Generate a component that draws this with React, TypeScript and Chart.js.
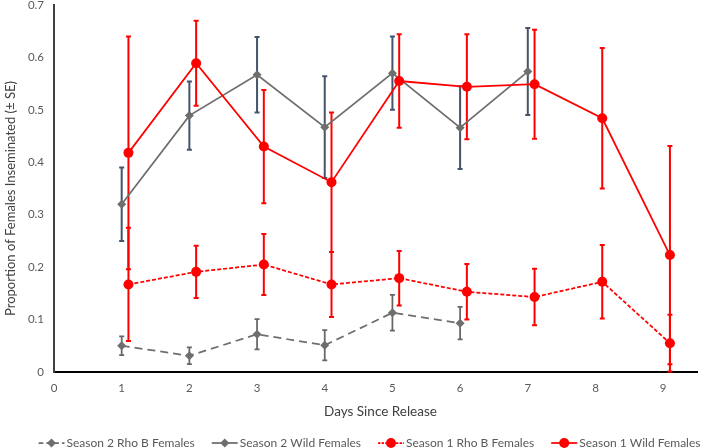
import React, { useEffect, useRef } from "react";
import { Chart, registerables } from "chart.js";

Chart.register(...registerables);

// ---- data ----
const season2WildDays = [1, 2, 3, 4, 5, 6, 7];
const season2WildValues = [0.32, 0.489, 0.567, 0.467, 0.57, 0.466, 0.573];
const season2WildErrors = [0.07, 0.065, 0.072, 0.097, 0.07, 0.079, 0.083];

const season2RhoBDays = [1, 2, 3, 4, 5, 6];
const season2RhoBValues = [0.05, 0.031, 0.072, 0.051, 0.113, 0.093];
const season2RhoBErrors = [0.018, 0.016, 0.029, 0.029, 0.034, 0.031];

const season1Days = [1, 2, 3, 4, 5, 6, 7, 8, 9];
const season1WildValues = [0.418, 0.589, 0.43, 0.362, 0.555, 0.544, 0.549, 0.484, 0.223];
const season1WildErrors = [0.222, 0.081, 0.108, 0.133, 0.089, 0.1, 0.104, 0.134, 0.208];
const season1RhoBValues = [0.167, 0.191, 0.205, 0.167, 0.179, 0.153, 0.143, 0.172, 0.055];
const season1RhoBErrors = [0.108, 0.05, 0.058, 0.062, 0.052, 0.053, 0.054, 0.07, 0.054];

// season 1 points are plotted slightly right of the day tick
const season1DayShift = 0.1;

const seriesLabels = [
  "Season 2 Rho B Females",
  "Season 2 Wild Females",
  "Season 1 Rho B Females",
  "Season 1 Wild Females",
];
const xTitle = "Days Since Release";
const yTitle = "Proportion of Females Inseminated (± SE)";

const FONT = "Lato, 'Open Sans', sans-serif";
const GREY = "#6e6e6e";
const RED = "#ff0000";

const toPoints = (days: number[], vals: number[], shift = 0) =>
  days.map((d, i) => ({ x: d + shift, y: vals[i] }));

const errorBarPlugin = {
  id: "errorBars",
  beforeDatasetsDraw(chart: any) {
    const { ctx } = chart;
    const yScale = chart.scales.y;
    chart.data.datasets.forEach((ds: any, i: number) => {
      const meta = chart.getDatasetMeta(i);
      const errs: number[] = ds.errors;
      if (!errs) return;
      ctx.save();
      ctx.strokeStyle = ds.errorColor;
      ctx.lineWidth = ds.errorWidth;
      ctx.setLineDash([]);
      const cap = 2.5;
      meta.data.forEach((pt: any, j: number) => {
        const v = ds.data[j].y;
        const yTop = yScale.getPixelForValue(v + errs[j]);
        const yBot = yScale.getPixelForValue(Math.max(0, v - errs[j]));
        const x = pt.x;
        ctx.beginPath();
        ctx.moveTo(x, yTop);
        ctx.lineTo(x, yBot);
        ctx.moveTo(x - cap, yTop);
        ctx.lineTo(x + cap, yTop);
        ctx.moveTo(x - cap, yBot);
        ctx.lineTo(x + cap, yBot);
        ctx.stroke();
      });
      ctx.restore();
    });
  },
};

const titlesAndLegendPlugin = {
  id: "titlesAndLegend",
  afterDraw(chart: any) {
    const { ctx, chartArea } = chart;
    ctx.save();
    // axis titles
    ctx.fillStyle = "#404040";
    ctx.textAlign = "center";
    ctx.textBaseline = "middle";
    ctx.font = `13.5px ${FONT}`;
    ctx.fillText(xTitle, (chartArea.left + chartArea.right) / 2 + 5, chartArea.bottom + 40);
    ctx.save();
    ctx.translate(11, (chartArea.top + chartArea.bottom) / 2 + 10);
    ctx.rotate(-Math.PI / 2);
    ctx.font = `13px ${FONT}`;
    ctx.fillText(yTitle, 0, 0);
    ctx.restore();

    // legend
    const items = chart.data.datasets;
    ctx.font = `12px ${FONT}`;
    const markW = 26;
    const gapText = 2;
    const gapItem = 17;
    const widths = items.map((ds: any) => ctx.measureText(ds.label).width);
    const total =
      widths.reduce((a: number, b: number) => a + b, 0) +
      items.length * (markW + gapText) +
      (items.length - 1) * gapItem;
    let x = chart.width / 2 + 18.5 - total / 2;
    const y = chart.height - 5;
    items.forEach((ds: any, i: number) => {
      ctx.strokeStyle = ds.borderColor;
      ctx.lineWidth = ds.borderWidth;
      const dash = ds.borderDash && ds.borderDash.length ? ds.borderDash.map((d: number) => d * 0.6) : [];
      ctx.setLineDash(dash);
      ctx.beginPath();
      ctx.moveTo(x, y);
      ctx.lineTo(x + markW, y);
      ctx.stroke();
      ctx.setLineDash([]);
      ctx.fillStyle = ds.pointBackgroundColor;
      const cx = x + markW / 2;
      const r = ds.pointRadius;
      ctx.beginPath();
      if (ds.pointStyle === "rectRot") {
        ctx.moveTo(cx - r, y);
        ctx.lineTo(cx, y - r);
        ctx.lineTo(cx + r, y);
        ctx.lineTo(cx, y + r);
        ctx.closePath();
      } else {
        ctx.arc(cx, y, r, 0, Math.PI * 2);
      }
      ctx.fill();
      ctx.fillStyle = "#595959";
      ctx.textBaseline = "middle";
      ctx.textAlign = "left";
      ctx.fillText(ds.label, x + markW + gapText, y);
      x += markW + gapText + widths[i] + gapItem;
    });
    ctx.restore();
  },
};

export default function App() {
  const canvasRef = useRef<HTMLCanvasElement | null>(null);

  useEffect(() => {
    if (!canvasRef.current) return;
    const chart = new Chart(canvasRef.current, {
      type: "line",
      data: {
        datasets: [
          {
            label: seriesLabels[0],
            data: toPoints(season2RhoBDays, season2RhoBValues),
            borderColor: GREY,
            backgroundColor: GREY,
            pointBackgroundColor: GREY,
            pointBorderColor: GREY,
            borderWidth: 1.75,
            borderDash: [8, 5],
            pointStyle: "rectRot",
            pointRadius: 4.5,
            pointBorderWidth: 0,
            order: 1,
            errors: season2RhoBErrors,
            errorColor: "#666666",
            errorWidth: 1.75,
          } as any,
          {
            label: seriesLabels[1],
            data: toPoints(season2WildDays, season2WildValues),
            borderColor: GREY,
            backgroundColor: GREY,
            pointBackgroundColor: GREY,
            pointBorderColor: GREY,
            borderWidth: 1.75,
            pointStyle: "rectRot",
            pointRadius: 4.5,
            pointBorderWidth: 0,
            order: 1,
            errors: season2WildErrors,
            errorColor: "#44546a",
            errorWidth: 2,
          } as any,
          {
            label: seriesLabels[2],
            data: toPoints(season1Days, season1RhoBValues, season1DayShift),
            borderColor: RED,
            backgroundColor: RED,
            pointBackgroundColor: RED,
            pointBorderColor: RED,
            borderWidth: 1.75,
            borderDash: [4, 2],
            pointStyle: "circle",
            pointRadius: 5,
            pointBorderWidth: 0,
            order: 0,
            errors: season1RhoBErrors,
            errorColor: RED,
            errorWidth: 2,
          } as any,
          {
            label: seriesLabels[3],
            data: toPoints(season1Days, season1WildValues, season1DayShift),
            borderColor: RED,
            backgroundColor: RED,
            pointBackgroundColor: RED,
            pointBorderColor: RED,
            borderWidth: 1.75,
            pointStyle: "circle",
            pointRadius: 5,
            pointBorderWidth: 0,
            order: 0,
            errors: season1WildErrors,
            errorColor: RED,
            errorWidth: 2,
          } as any,
        ],
      },
      options: {
        animation: false,
        responsive: true,
        maintainAspectRatio: false,
        layout: { padding: { left: 0, top: 0, right: 5, bottom: 20 } },
        plugins: {
          legend: { display: false },
          tooltip: { enabled: false },
        },
        scales: {
          x: {
            type: "linear",
            min: 0,
            max: 9.5,
            grid: { display: false, drawTicks: false, tickLength: 0 },
            border: { display: true, color: "#000000", width: 2 },
            ticks: {
              stepSize: 1,
              includeBounds: false,
              padding: 9,
              color: "#595959",
              font: { family: FONT, size: 11.5 },
            },
            title: { display: false },
            afterFit(scale: any) {
              scale.height = 56;
              scale.paddingLeft = 0;
              scale.paddingRight = 0;
            },
          },
          y: {
            type: "linear",
            min: 0,
            max: 0.7,
            grid: { display: false, drawTicks: false, tickLength: 0 },
            border: { display: true, color: "#404040", width: 2 },
            ticks: {
              stepSize: 0.1,
              padding: 10,
              color: "#595959",
              font: { family: FONT, size: 11.5 },
              callback: (v: any) => (v === 0 ? "0" : Number(v).toFixed(1)),
            },
            title: { display: false },
            afterFit(scale: any) {
              scale.width = 54;
              scale.paddingTop = 5;
              scale.paddingBottom = 0;
            },
          },
        },
      } as any,
      plugins: [errorBarPlugin, titlesAndLegendPlugin],
    });
    return () => chart.destroy();
  }, []);

  return (
    <div style={{ position: "absolute", left: 0, top: 0, width: 702, height: 448, background: "#ffffff" }}>
      <canvas ref={canvasRef} />
    </div>
  );
}
